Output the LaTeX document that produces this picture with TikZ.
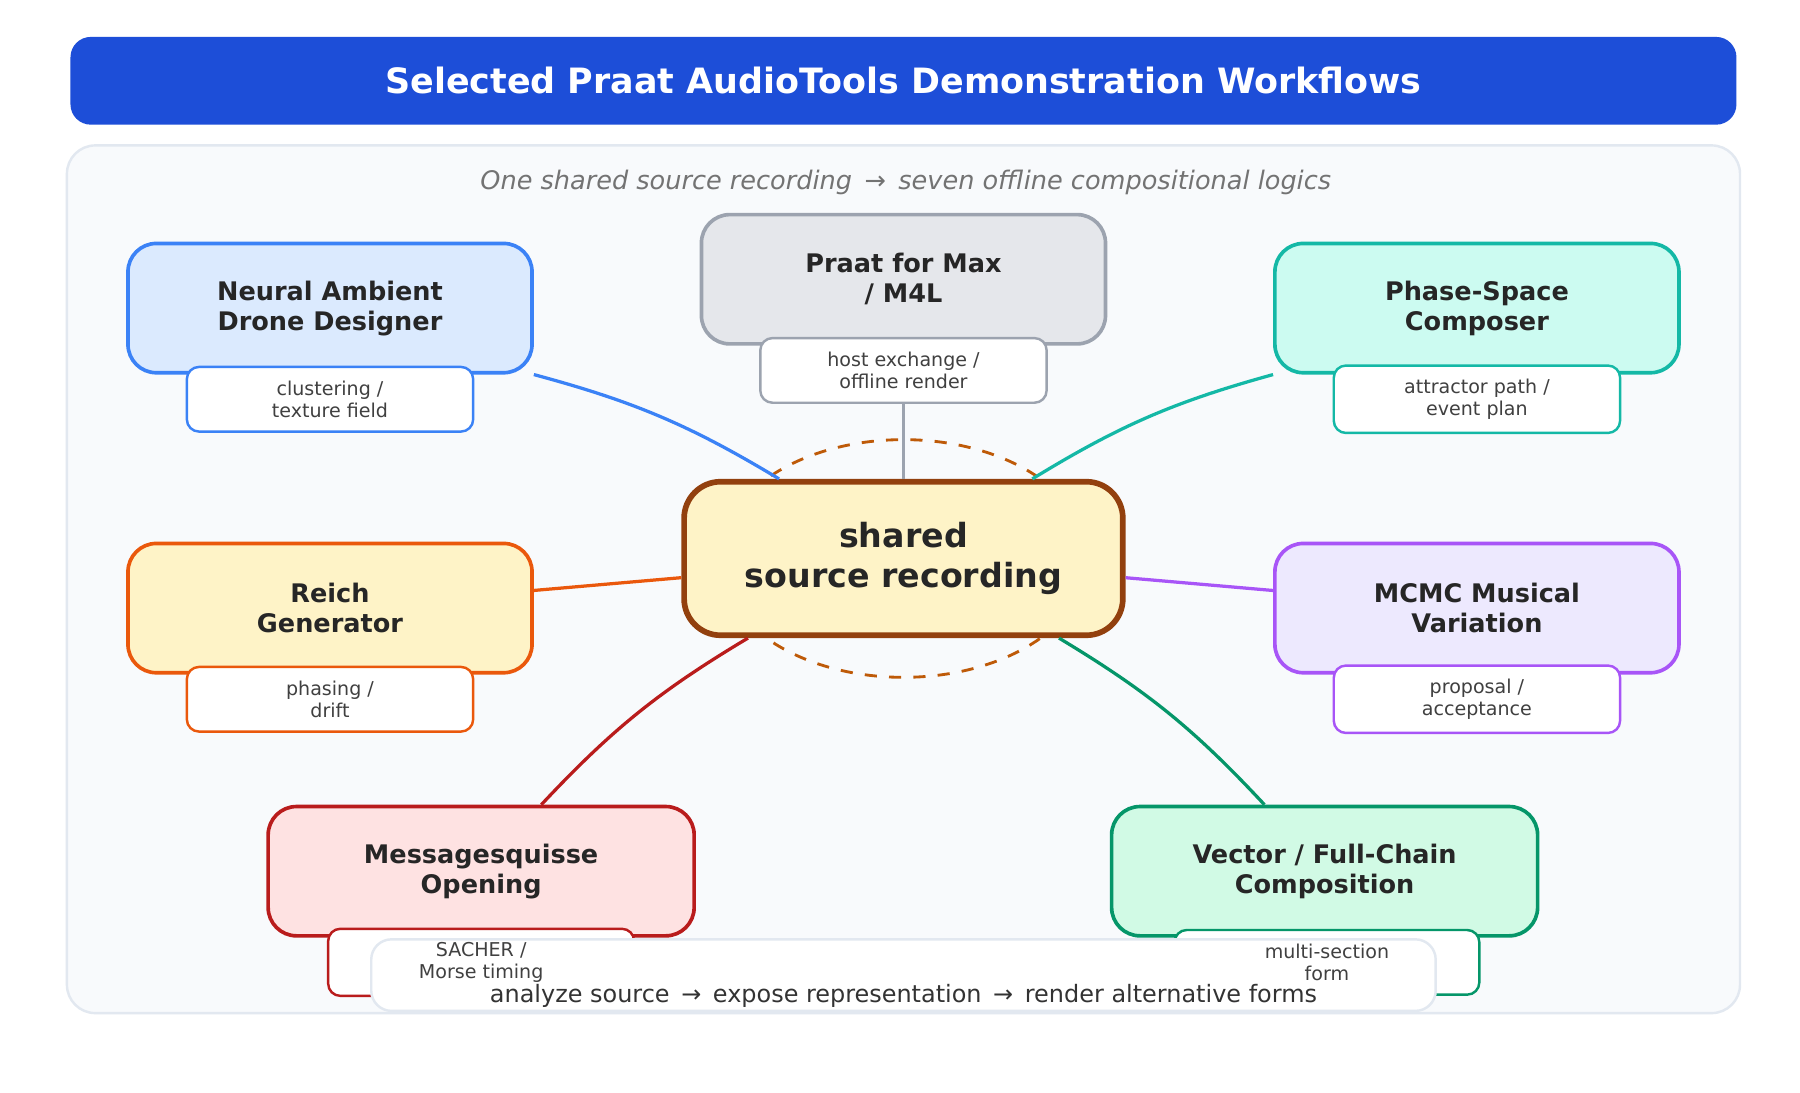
\documentclass[tikz,border=0pt]{standalone}
\usepackage{fontspec}
\setmainfont{DejaVu Sans}
\usetikzlibrary{calc}
\definecolor{titleblue}{HTML}{1D4ED8}
\definecolor{panelbg}{HTML}{F8FAFC}
\definecolor{panelline}{HTML}{E2E8F0}
\definecolor{srcfill}{HTML}{FEF3C7}
\definecolor{srcline}{HTML}{92400E}
\definecolor{blueline}{HTML}{3B82F6}\definecolor{bluefill}{HTML}{DBEAFE}
\definecolor{grayline}{HTML}{9CA3AF}\definecolor{grayfill}{HTML}{E5E7EB}
\definecolor{tealline}{HTML}{14B8A6}\definecolor{tealfill}{HTML}{CCFBF1}
\definecolor{orangeline}{HTML}{EA580C}\definecolor{orangefill}{HTML}{FEF3C7}
\definecolor{purpleline}{HTML}{A855F7}\definecolor{purplefill}{HTML}{EDE9FE}
\definecolor{redline}{HTML}{B91C1C}\definecolor{redfill}{HTML}{FEE2E2}
\definecolor{greenline}{HTML}{059669}\definecolor{greenfill}{HTML}{D1FAE5}
\tikzset{
  tool/.style={draw=#1line, fill=#1fill, line width=0.9pt, rounded corners=7pt,
    minimum width=3.5cm, minimum height=1.12cm, align=center,
    font=\fontsize{6.3}{7.4}\selectfont\bfseries, text=black!85},
  sub/.style={draw=#1line, fill=white, line width=0.6pt, rounded corners=3pt,
    minimum width=2.48cm, minimum height=0.56cm, align=center,
    font=\fontsize{4.7}{5.4}\selectfont, text=black!75},
  link/.style={draw=#1line, line width=0.8pt},
}
\begin{document}
\begin{tikzpicture}[x=0.01cm,y=-0.01cm]
        \useasboundingbox (0,0) rectangle (1560,947);
        \fill[white] (0,0) rectangle (1560,947);
        %TITLE
        \node[fill=titleblue, rounded corners=5pt, minimum width=14.43cm, minimum height=0.76cm,
          text=white, font=\fontsize{8.6}{10}\selectfont\bfseries] (title) at (783,70)
          {Selected Praat AudioTools Demonstration Workflows};
        %PANEL
        \filldraw[fill=panelbg, draw=panelline, line width=0.6pt, rounded corners=7pt] (58,126) rectangle (1508,878);
        \node[text=black!55, font=\fontsize{6.3}{7}\selectfont\itshape] (subtitle) at (785,158)
          {One shared source recording \,→\, seven offline compositional logics};
        %ELLIPSE
        \draw[srcline!60!orange, dashed, line width=0.7pt] (783,484) ellipse (160 and 103);
        %TOOLS
        \node[tool=blue]   (neural) at (286,267)  {Neural Ambient\\Drone Designer};
        \node[tool=gray]   (praat)  at (783,242)  {Praat for Max\\/ M4L};
        \node[tool=teal]   (phase)  at (1280,267) {Phase-Space\\Composer};
        \node[tool=orange] (reich)  at (286,527)  {Reich\\Generator};
        \node[tool=purple] (mcmc)   at (1280,527) {MCMC Musical\\Variation};
        \node[tool=red, minimum width=3.69cm]   (mess)   at (417,755)  {Messagesquisse\\Opening};
        \node[tool=green, minimum width=3.69cm] (vector) at (1148,755) {Vector / Full-Chain\\Composition};
        %SUBLABELS
        \node[sub=blue]   (neuralsub) at (286,346)  {clustering /\\texture field};
        \node[sub=gray]   (praatsub)  at (783,321)  {host exchange /\\offline render};
        \node[sub=teal]   (phasesub)  at (1280,346) {attractor path /\\event plan};
        \node[sub=orange] (reichsub)  at (286,606)  {phasing /\\drift};
        \node[sub=purple] (mcmcsub)   at (1280,606) {proposal /\\acceptance};
        \node[sub=red, minimum width=2.65cm]   (messsub)   at (417,834)  {SACHER /\\Morse timing};
        \node[sub=green, minimum width=2.64cm] (vectorsub) at (1150,834) {multi-section\\form};
        %CENTER
        \node[draw=srcline, fill=srcfill, line width=1.4pt, rounded corners=9pt,
          minimum width=3.8cm, minimum height=1.33cm, align=center,
          font=\fontsize{8.2}{10}\selectfont\bfseries, text=black!85] (src) at (783,484)
          {shared\\source recording};
        %LINKS
        \draw[link=blue]   (neural.south east) to[bend left=8] ($(src.north west)!0.22!(src.north east)$);
        \draw[link=gray]   (praatsub) -- (src);
        \draw[link=teal]   (phase.south west) to[bend right=8] ($(src.north west)!0.79!(src.north east)$);
        \draw[link=orange] (reich) -- (src);
        \draw[link=purple] (src) -- (mcmc);
        \draw[link=red]    ($(mess.north west)!0.64!(mess.north east)$) to[bend left=8] ($(src.south west)!0.15!(src.south east)$);
        \draw[link=green]  ($(vector.north west)!0.36!(vector.north east)$) to[bend right=8] ($(src.south west)!0.85!(src.south east)$);
        %FOOTER
        \node[draw=panelline, fill=white, line width=0.6pt, rounded corners=5pt,
          minimum width=9.22cm, minimum height=0.62cm, anchor=north] (footer) at (783,813) {};
        \node[font=\fontsize{5.9}{7}\selectfont, text=black!80] (flow) at (783,863)
          {analyze source \,→\, expose representation \,→\, render alternative forms};
        \node[font=\fontsize{4.7}{5.4}\selectfont, text=black!75, align=center] (messtxt) at (messsub) {SACHER /\\Morse timing};
        \node[font=\fontsize{4.7}{5.4}\selectfont, text=black!75, align=center] (vectortxt) at (vectorsub) {multi-section\\form};
    \end{tikzpicture}
\end{document}
